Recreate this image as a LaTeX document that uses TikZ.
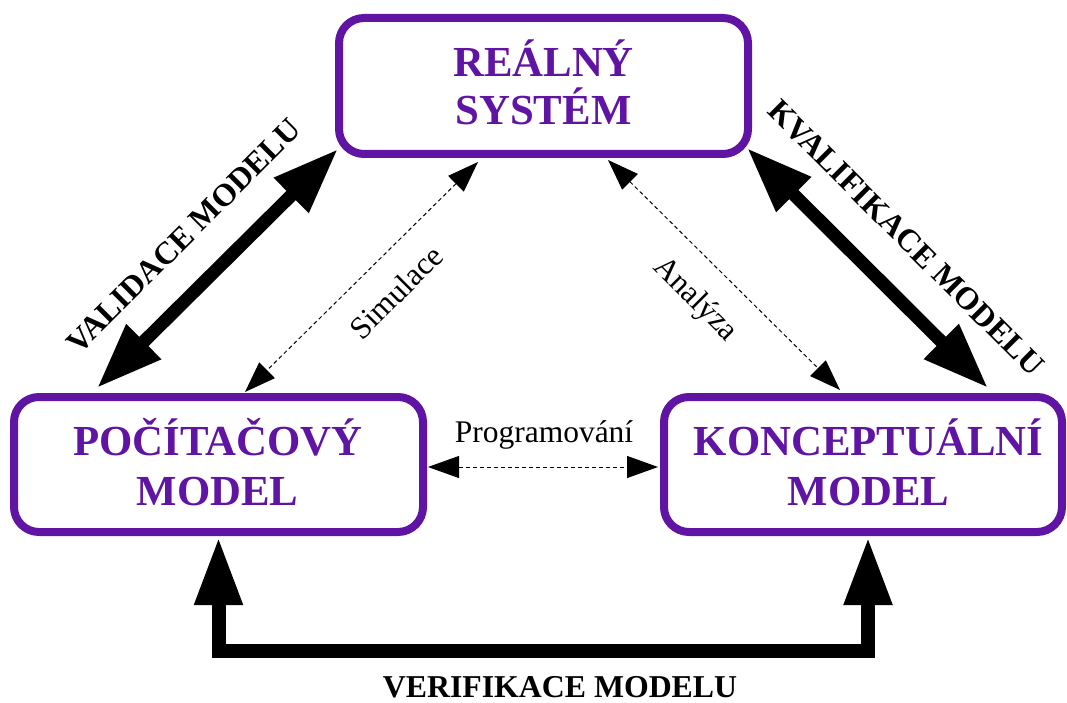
\documentclass[tikz,border=0pt]{standalone}
\usepackage{fontspec}
\setmainfont{Liberation Serif}
\usetikzlibrary{arrows.meta,calc}
\definecolor{boxpurple}{RGB}{96,20,164}
\begin{document}
\begin{tikzpicture}[x=1pt,y=-1pt,
  sysbox/.style={draw=boxpurple, line width=8pt, rounded corners=25pt, inner sep=0pt, outer sep=0pt, fill=white},
  boxtext/.style={text=boxpurple, font=\fontsize{42.8}{50}\selectfont\bfseries, anchor=base, inner sep=0pt},
  biglabel/.style={font=\fontsize{31.8}{36}\selectfont\bfseries, inner sep=0pt},
  smalllabel/.style={font=\fontsize{31.5}{36}\selectfont, inner sep=0pt},
  thickarrow/.style={line width=13pt, {Triangle[length=66pt,width=46pt]}-{Triangle[length=66pt,width=46pt]}},
  verifarrow/.style={line width=14pt, line join=miter, {Triangle[length=68pt,width=45pt]}-{Triangle[length=68pt,width=45pt]}},
  dasharrow/.style={line width=1pt, dash pattern=on 4pt off 3pt, {Triangle[length=31pt,width=22pt]}-{Triangle[length=31pt,width=22pt]}}
]
\useasboundingbox (0,0) rectangle (1067,703);

% boxes
\node[sysbox, minimum width=409pt, minimum height=136pt] (rs) at (543.5,86) {};
\node[sysbox, minimum width=409pt, minimum height=135pt] (pc) at (218.5,464.5) {};
\node[sysbox, minimum width=398pt, minimum height=135pt] (cm) at (863,464.5) {};

\node[boxtext] (rs1) at (543.5,77) {REÁLNÝ};
\node[boxtext] (rs2) at (543.5,125) {SYSTÉM};
\node[boxtext] (pc1) at (218,455) {POČÍTAČOVÝ};
\node[boxtext] (pc2) at (217.5,505) {MODEL};
\node[boxtext] (cm1) at (868.5,455) {KONCEPTUÁLNÍ};
\node[boxtext] (cm2) at (868.5,505) {MODEL};

% thick arrows
\draw[thickarrow] ($(pc.north west)+(83,-9)$) -- ($(rs.south west)+(-1,-5)$);
\draw[thickarrow] ($(rs.south east)+(-1,-6)$) -- ($(cm.north east)+(-74,-9)$);
\draw[verifarrow] ($(pc.south)+(0,5)$) -- ($(pc.south)+(0,119)$) -- ($(cm.south)+(5,119)$) -- ($(cm.south)+(5,5)$);

% dashed arrows
\draw[dasharrow] ($(rs.south west)+(139,8)$) -- ($(pc.north west)+(231,-5)$);
\draw[dasharrow] ($(rs.south east)+(-140,6)$) -- ($(cm.north west)+(176,-7)$);
\draw[dasharrow] ($(pc.east)+(5,2.5)$) -- ($(cm.west)+(-6,2.5)$);

% labels
\node[biglabel, rotate=45] (lval) at (184,236) {VALIDACE MODELU};
\node[biglabel, rotate=-45] (lkval) at (906,238) {KVALIFIKACE MODELU};
\node[biglabel, anchor=base] (lver) at (560,697) {VERIFIKACE MODELU};
\node[smalllabel, rotate=45] (lsim) at (396,292) {Simulace};
\node[smalllabel, rotate=-45] (lana) at (695,300) {Analýza};
\node[smalllabel, anchor=base] (lprog) at (544,442) {Programování};
\end{tikzpicture}
\end{document}
